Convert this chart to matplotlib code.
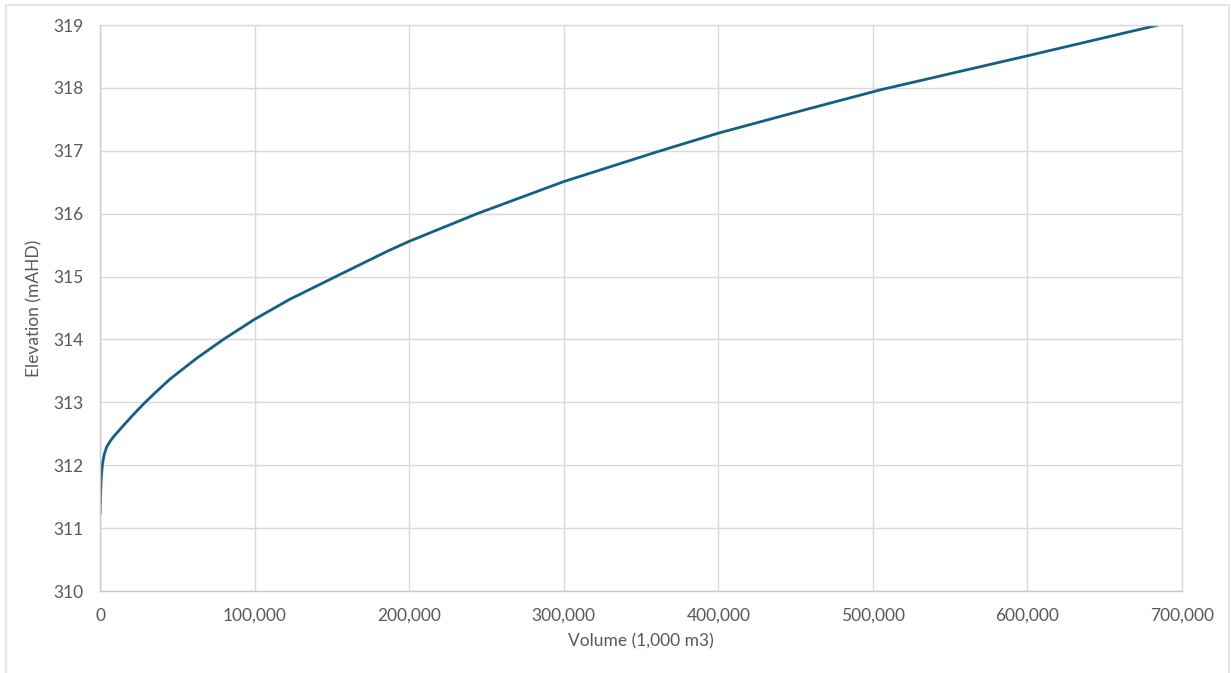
import matplotlib
matplotlib.use("Agg")
import matplotlib.pyplot as plt
from matplotlib.ticker import FuncFormatter
from matplotlib.patches import Rectangle

# storage curve
volume = [0, 300, 800, 1500, 2600, 4300, 6500, 9000, 15100, 21000, 28000, 36000,
          45300, 62500, 79800, 100000, 122900, 154200, 186500, 200000, 244000,
          300000, 360000, 400000, 455000, 505000, 600000, 684700]
elevation = [311.21, 311.5, 311.8, 312.0, 312.16, 312.29, 312.38, 312.46, 312.63,
             312.79, 312.97, 313.16, 313.37, 313.70, 314.0, 314.32, 314.64, 315.02,
             315.41, 315.56, 316.0, 316.51, 316.98, 317.28, 317.645, 317.97,
             318.51, 319.0]

x_ticks = [0, 100000, 200000, 300000, 400000, 500000, 600000, 700000]
y_ticks = [310, 311, 312, 313, 314, 315, 316, 317, 318, 319]

plt.rcParams['font.family'] = ['Lato', 'DejaVu Sans']

fig = plt.figure(figsize=(12.31, 6.73), dpi=100)
ax = fig.add_axes([100 / 1231, 1 - 591 / 673, 1082 / 1231, 566 / 673])

# light outer border like the chart frame
fig.patches.append(Rectangle((5.5 / 1231, -0.05), 1223.5 / 1231, 1 - 5.5 / 673 + 0.05,
                             transform=fig.transFigure, fill=False,
                             edgecolor='#E6E6E6', linewidth=1.5))

ax.plot(volume, elevation, color='#156082', linewidth=2.0, solid_capstyle='butt',
        solid_joinstyle='round')

ax.set_xlim(0, 700000)
ax.set_ylim(310, 319)
ax.set_xticks(x_ticks)
ax.set_yticks(y_ticks)
ax.xaxis.set_major_formatter(FuncFormatter(lambda v, p: f'{int(v):,}'))
ax.grid(True, color='#D9D9D9', linewidth=1)
ax.set_axisbelow(True)
for s in ax.spines.values():
    s.set_color('#D9D9D9')
    s.set_linewidth(1)
ax.spines['left'].set_color('#C8C8C8')
ax.spines['bottom'].set_color('#C8C8C8')
ax.tick_params(length=0, labelsize=12.5, labelcolor='#595959', pad=12)

ax.set_xlabel('Volume (1,000 m3)', fontsize=12.5, color='#595959', labelpad=7)
ax.set_ylabel('Elevation (mAHD)', fontsize=12.5, color='#595959', labelpad=8)

fig.savefig('out.png', dpi=100)
